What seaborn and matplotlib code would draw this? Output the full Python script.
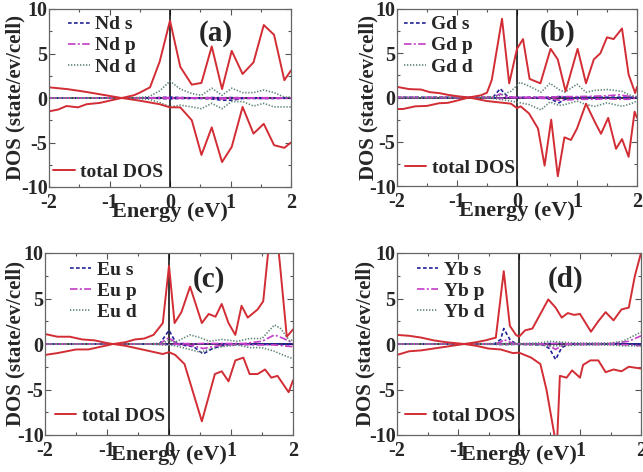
import numpy as np
import pandas as pd
import seaborn as sns
import matplotlib
matplotlib.use("Agg")
import matplotlib.pyplot as plt
from matplotlib.ticker import MultipleLocator

# ---------------- data ----------------
panel_labels = ["(a)", "(b)", "(c)", "(d)"]
elements = ["Nd", "Gd", "Eu", "Yb"]

# panel (a) Nd
a_tot_up_x = [-2, -1.7, -1.4, -1.1, -0.8, -0.6, -0.5, -0.33, -0.17, 0, 0.17, 0.36, 0.52, 0.69, 0.86, 1.02, 1.2, 1.38, 1.55, 1.72, 1.89, 2.0]
a_tot_up = [1.2, 1.0, 0.7, 0.35, 0.0, 0.3, 0.6, 1.2, 4.1, 8.7, 3.5, 1.5, 1.7, 5.8, 1.0, 5.3, 2.7, 4.0, 8.2, 7.1, 2.0, 3.1]
a_tot_dn_x = [-2, -1.85, -1.71, -1.52, -1.38, -1.16, -1.0, -0.8, -0.5, -0.17, 0, 0.17, 0.36, 0.52, 0.69, 0.86, 1.02, 1.2, 1.38, 1.55, 1.72, 1.89, 2.0]
a_tot_dn = [-1.5, -1.3, -0.9, -1.05, -0.7, -0.55, -0.3, 0.0, -0.3, -0.7, -1.05, -1.05, -2.5, -6.4, -3.3, -7.2, -5.5, -1.0, -4.0, -2.9, -5.3, -5.6, -5.0]
a_orb_x = [-2, -0.6, -0.35, -0.17, 0, 0.17, 0.36, 0.52, 0.69, 0.86, 1.02, 1.2, 1.38, 1.55, 1.72, 1.89, 2.0]
a_s_up = [0, 0, 0.02, 0.05, 0.1, 0.05, 0.02, 0.02, 0.05, 0.02, 0.05, 0.02, 0.02, 0.03, 0.02, 0.01, 0.01]
a_s_dn = [0, 0, -0.02, -0.05, -0.1, -0.05, -0.05, -0.05, -0.1, -0.25, -0.25, -0.05, -0.05, -0.05, -0.05, -0.03, -0.03]
a_p_up = [0, 0, 0.01, 0.03, 0.05, 0.03, 0.01, 0.01, 0.03, 0.01, 0.03, 0.01, 0.01, 0.02, 0.01, 0.01, 0.01]
a_p_dn = [0, 0, -0.01, -0.03, -0.05, -0.03, -0.03, -0.03, -0.05, -0.1, -0.1, -0.03, -0.03, -0.05, -0.05, -0.03, -0.03]
a_d_up = [0, 0.02, 0.15, 0.8, 1.9, 1.0, 0.5, 0.3, 1.1, 0.3, 1.1, 0.6, 0.6, 0.9, 0.6, 0.1, 0.1]
a_d_dn = [0, -0.02, -0.15, -0.5, -1.0, -0.8, -1.0, -1.2, -0.6, -1.2, -0.4, -0.4, -0.9, -0.6, -1.0, -1.0, -1.0]

# panel (b) Gd
b_tot_up_x = [-2, -1.8, -1.6, -1.45, -1.3, -1.15, -1.0, -0.8, -0.6, -0.5, -0.42, -0.25, -0.13, 0.0, 0.1, 0.21, 0.39, 0.56, 0.68, 0.81, 1.01, 1.15, 1.28, 1.39, 1.5, 1.61, 1.75, 1.86, 1.97, 2.0]
b_tot_up = [1.2, 0.95, 0.9, 0.6, 0.5, 0.3, 0.15, 0.0, 0.25, 0.55, 2.0, 8.9, 1.6, 5.5, 6.6, 2.1, 1.6, 5.5, 4.3, 0.7, 5.5, 1.6, 4.3, 5.0, 6.8, 6.6, 7.8, 2.6, 0.5, 1.2]
b_tot_dn_x = [-2, -1.9, -1.7, -1.5, -1.3, -1.15, -1.0, -0.8, -0.5, -0.3, -0.1, 0.0, 0.06, 0.2, 0.35, 0.46, 0.57, 0.68, 0.79, 0.9, 1.0, 1.15, 1.3, 1.4, 1.52, 1.65, 1.75, 1.86, 1.96, 2.0]
b_tot_dn = [-1.3, -1.3, -1.0, -0.95, -0.65, -0.6, -0.35, 0.0, -0.4, -0.55, -0.7, -1.2, -1.0, -1.8, -3.5, -7.7, -2.5, -8.9, -4.5, -4.8, -3.5, -0.7, -2.8, -4.1, -2.3, -5.8, -4.7, -6.7, -1.6, -2.3]
b_sp_x = [-2, -0.4, -0.28, -0.15, 0, 0.5, 0.6, 0.7, 0.8, 1.0, 1.3, 1.5, 1.7, 1.85, 2.0]
b_s_up = [0, 0.02, 1.0, 0.05, 0.02, 0.02, 0.05, 0.1, 0.05, 0.02, 0.02, 0.02, 0.02, 0.02, 0.02]
b_s_dn = [0, -0.02, -0.1, -0.02, -0.02, -0.1, -0.3, -0.6, -0.2, -0.05, -0.02, -0.02, -0.02, -0.02, -0.02]
b_p_up = [0, 0.02, 0.4, 0.05, 0.02, 0.05, 0.05, 0.1, 0.1, 0.1, 0.15, 0.2, 0.3, 0.15, 0.05]
b_p_dn = [0, -0.02, -0.1, -0.02, -0.02, -0.1, -0.15, -0.3, -0.3, -0.2, -0.2, -0.15, -0.2, -0.2, -0.05]
b_d_x = [-2, -0.5, -0.3, -0.1, 0.05, 0.2, 0.4, 0.55, 0.7, 0.8, 1.0, 1.15, 1.3, 1.5, 1.75, 1.9, 2.0]
b_d_up = [0, 0.02, 0.2, 0.7, 1.7, 1.3, 0.6, 1.6, 0.9, 0.6, 1.5, 0.6, 0.8, 0.9, 0.7, 0.2, 0.1]
b_d_dn = [0, -0.02, -0.2, -0.4, -0.6, -0.8, -1.4, -0.5, -0.9, -0.8, -0.4, -0.8, -1.0, -0.6, -1.0, -0.7, -0.4]

# panel (c) Eu
c_tot_up_x = [-2, -1.8, -1.6, -1.4, -1.2, -1.0, -0.9, -0.7, -0.55, -0.4, -0.25, -0.1, 0.0, 0.09, 0.2, 0.34, 0.53, 0.64, 0.75, 0.85, 0.96, 1.07, 1.17, 1.27, 1.43, 1.52, 1.62, 1.75, 1.8, 1.9, 2.0]
c_tot_up = [1.1, 0.8, 0.8, 0.5, 0.4, 0.1, 0.0, 0.2, 0.5, 0.6, 1.0, 2.3, 8.6, 2.3, 3.5, 6.3, 2.3, 3.3, 3.0, 4.4, 2.3, 1.0, 4.2, 2.9, 3.8, 4.7, 11.5, 11.5, 8.0, 0.8, 1.6]
c_tot_dn_x = [-2, -1.8, -1.5, -1.3, -1.1, -0.9, -0.7, -0.5, -0.3, -0.1, 0.0, 0.1, 0.25, 0.53, 0.74, 0.85, 0.96, 1.07, 1.2, 1.3, 1.43, 1.55, 1.65, 1.75, 1.93, 2.0]
c_tot_dn = [-1.2, -1.0, -0.6, -0.6, -0.3, 0.0, -0.2, -0.5, -0.8, -1.1, -0.9, -1.2, -2.2, -8.5, -3.3, -3.0, -4.1, -1.8, -1.5, -3.3, -3.3, -2.8, -3.7, -3.5, -5.3, -4.0]
c_sp_x = [-2, -0.15, 0.0, 0.12, 0.4, 0.55, 0.7, 0.9, 1.2, 1.5, 1.7, 1.85, 2.0]
c_s_up = [0, 0.02, 1.5, 0.05, 0.02, 0.02, 0.02, 0.02, 0.02, 0.02, 0.02, 0.02, 0.02]
c_s_dn = [0, -0.02, -0.05, -0.02, -0.3, -1.1, -0.5, -0.1, -0.05, -0.05, -0.05, -0.05, -0.05]
c_p_up = [0, 0.02, 0.7, 0.05, 0.02, 0.05, 0.05, 0.05, 0.05, 0.3, 1.0, 0.6, 0.1]
c_p_dn = [0, -0.02, -0.05, -0.02, -0.2, -0.5, -0.3, -0.1, -0.05, -0.1, -0.1, -0.2, -0.3]
c_d_x = [-2, -0.3, -0.1, 0.0, 0.1, 0.34, 0.5, 0.65, 0.85, 1.1, 1.3, 1.5, 1.7, 1.8, 1.95, 2.0]
c_d_up = [0, 0.02, 0.1, 0.4, 0.2, 1.0, 0.7, 0.3, 0.5, 0.3, 0.6, 0.6, 2.1, 1.7, 0.3, 0.5]
c_d_dn = [0, -0.02, -0.1, -0.1, -0.2, -0.6, -0.9, -0.6, -0.3, -0.1, -0.4, -0.4, -0.8, -1.1, -1.5, -1.6]

# panel (d) Yb
d_tot_up_x = [-2, -1.8, -1.6, -1.4, -1.2, -0.9, -0.7, -0.55, -0.38, -0.25, -0.15, -0.05, 0.0, 0.1, 0.22, 0.48, 0.6, 0.7, 0.8, 0.9, 1.0, 1.18, 1.3, 1.42, 1.55, 1.68, 1.8, 1.9, 2.0]
d_tot_up = [1.0, 0.9, 0.7, 0.4, 0.2, 0.0, 0.2, 0.4, 0.7, 8.0, 2.0, 1.0, 0.8, 1.5, 1.7, 4.9, 4.0, 2.9, 3.4, 3.2, 3.3, 1.35, 2.5, 3.5, 2.6, 3.8, 4.0, 7.5, 10.0]
d_tot_dn_x = [-2, -1.8, -1.6, -1.4, -1.2, -0.9, -0.7, -0.5, -0.3, -0.1, 0.0, 0.2, 0.35, 0.45, 0.62, 0.67, 0.78, 0.87, 1.0, 1.05, 1.17, 1.3, 1.42, 1.55, 1.68, 1.8, 2.0]
d_tot_dn = [-1.2, -0.8, -0.7, -0.5, -0.3, 0.0, -0.2, -0.5, -0.6, -1.0, -0.95, -1.5, -2.2, -5.0, -11.5, -3.5, -3.7, -2.9, -3.7, -2.3, -1.8, -1.8, -3.1, -2.8, -3.0, -2.5, -2.7]
d_sp_x = [-2, -0.4, -0.3, -0.25, -0.15, -0.05, 0.4, 0.5, 0.6, 0.7, 0.8, 1.5, 1.8, 2.0]
d_s_up = [0, 0.02, 0.5, 1.7, 0.5, 0.02, 0.02, 0.05, 0.05, 0.05, 0.02, 0.02, 0.02, 0.02]
d_s_dn = [0, -0.02, -0.05, -0.05, -0.05, -0.02, -0.1, -0.5, -1.7, -0.4, -0.05, -0.02, -0.02, -0.02]
d_p_up = [0, 0.02, 0.2, 0.5, 0.2, 0.02, 0.02, 0.05, 0.05, 0.05, 0.02, 0.05, 0.3, 0.9]
d_p_dn = [0, -0.02, -0.02, -0.02, -0.02, -0.02, -0.05, -0.2, -0.6, -0.2, -0.05, -0.05, -0.1, -0.2]
d_d_x = [-2, -0.3, 0.0, 0.3, 0.5, 0.7, 1.0, 1.5, 1.7, 1.85, 2.0]
d_d_up = [0, 0.05, 0.05, 0.1, 0.3, 0.2, 0.1, 0.1, 0.3, 0.8, 1.3]
d_d_dn = [0, -0.05, -0.05, -0.1, -0.2, -0.2, -0.1, -0.1, -0.2, -0.2, -0.2]

panels = [
    dict(tu=(a_tot_up_x, a_tot_up), td=(a_tot_dn_x, a_tot_dn),
         s=(a_orb_x, a_s_up, a_s_dn), p=(a_orb_x, a_p_up, a_p_dn), d=(a_orb_x, a_d_up, a_d_dn)),
    dict(tu=(b_tot_up_x, b_tot_up), td=(b_tot_dn_x, b_tot_dn),
         s=(b_sp_x, b_s_up, b_s_dn), p=(b_sp_x, b_p_up, b_p_dn), d=(b_d_x, b_d_up, b_d_dn)),
    dict(tu=(c_tot_up_x, c_tot_up), td=(c_tot_dn_x, c_tot_dn),
         s=(c_sp_x, c_s_up, c_s_dn), p=(c_sp_x, c_p_up, c_p_dn), d=(c_d_x, c_d_up, c_d_dn)),
    dict(tu=(d_tot_up_x, d_tot_up), td=(d_tot_dn_x, d_tot_dn),
         s=(d_sp_x, d_s_up, d_s_dn), p=(d_sp_x, d_p_up, d_p_dn), d=(d_d_x, d_d_up, d_d_dn)),
]

# ---------------- style ----------------
sns.set_style("ticks")
plt.rcParams['font.family'] = ['Liberation Serif', 'DejaVu Serif']
plt.rcParams['font.weight'] = 'bold'
plt.rcParams['axes.labelweight'] = 'bold'
plt.rcParams['axes.unicode_minus'] = False

RED = "#d22d35"
S_COL = "#22229a"
P_COL = "#c43cc8"
D_COL = "#5f8577"

fig = plt.figure(figsize=(6.43, 4.72), dpi=100)
W, H = 643, 472
# axes boxes in pixels: left, right, top, bottom
boxes = [(49, 291, 9, 187), (397, 637, 9, 186), (45, 293, 253, 435), (397, 641, 253, 435)]
label_pos = [(0.69, 0.865), (0.67, 0.865), (0.66, 0.857), (0.69, 0.857)]
leg1_pos = [(0.079, 0.962), (0.03, 0.962), (0.10, 0.955), (0.08, 0.955)]
leg2_pos = [(0.017, 0.084), (0.033, 0.10), (0.04, 0.104), (0.033, 0.104)]
ylab_x = [15, 368, 15, 365]

for i, (pan, (l, r, t, b)) in enumerate(zip(panels, boxes)):
    ax = fig.add_axes([l / W, 1 - b / H, (r - l) / W, (b - t) / H])
    ax.axhline(0, color="black", lw=1.1, zorder=1)
    ax.axvline(0, color="black", lw=1.1, zorder=1)

    handles = []
    for key, col, ls in [("s", S_COL, (0, (2.2, 1.4))),
                         ("p", P_COL, (0, (4.5, 1.4, 1.2, 1.4))),
                         ("d", D_COL, (0, (0.8, 1.0)))]:
        x, up, dn = pan[key]
        sns.lineplot(x=x, y=up, ax=ax, color=col, linestyle=ls, lw=1.2, sort=False, estimator=None)
        h = ax.lines[-1]
        sns.lineplot(x=x, y=dn, ax=ax, color=col, linestyle=ls, lw=1.2, sort=False, estimator=None)
        handles.append((h, f"{elements[i]} {key}"))

    sns.lineplot(x=pan["tu"][0], y=pan["tu"][1], ax=ax, color=RED, lw=1.4, sort=False, estimator=None)
    htot = ax.lines[-1]
    sns.lineplot(x=pan["td"][0], y=pan["td"][1], ax=ax, color=RED, lw=1.4, sort=False, estimator=None)

    ax.set_xlim(-2, 2)
    ax.set_ylim(-10, 10)
    ax.xaxis.set_major_locator(MultipleLocator(1))
    ax.xaxis.set_minor_locator(MultipleLocator(0.5))
    ax.yaxis.set_major_locator(MultipleLocator(5))
    ax.yaxis.set_minor_locator(MultipleLocator(2.5))
    ax.tick_params(which="both", direction="in", top=True, right=True, color="#555555")
    ax.tick_params(which="major", length=4, width=0.8, labelsize=14.5)
    ax.tick_params(axis="x", which="major", pad=4)
    ax.tick_params(axis="y", which="major", pad=1)
    ax.tick_params(which="minor", length=2.5, width=0.8)
    for lab in ax.get_xticklabels() + ax.get_yticklabels():
        lab.set_fontweight("bold")
    for sp in ax.spines.values():
        sp.set_color("#666666")
        sp.set_linewidth(0.9)

    ax.set_xlabel("Energy (eV)", fontsize=16, fontweight="bold")
    ax.set_ylabel("DOS (state/ev/cell)", fontsize=15, fontweight="bold")
    ax.xaxis.set_label_coords(0.5, -(25 if i < 2 else 20) / (b - t), transform=None) if False else None
    ax.xaxis.set_label_coords(0.5, -(25 if i < 2 else 20) / (b - t))
    ax.xaxis.label.set_va("center")
    ax.yaxis.set_label_coords(-(l - ylab_x[i]) / (r - l), 0.5)
    ax.yaxis.label.set_va("center")

    ax.text(label_pos[i][0], label_pos[i][1], panel_labels[i], transform=ax.transAxes,
            ha="center", va="center", fontsize=21, fontweight="bold")

    leg1 = ax.legend([h for h, _ in handles], [n for _, n in handles], loc="upper left",
                     bbox_to_anchor=leg1_pos[i], frameon=False,
                     handlelength=1.1, handletextpad=0.3, labelspacing=0.18,
                     borderpad=0, borderaxespad=0, prop={"weight": "bold", "size": 14})
    ax.add_artist(leg1)
    ax.legend([htot], ["total DOS"], loc="center left", bbox_to_anchor=leg2_pos[i],
              frameon=False, handlelength=1.1, handletextpad=0.3, borderpad=0,
              borderaxespad=0, prop={"weight": "bold", "size": 14})

fig.savefig("out.png", dpi=100)
